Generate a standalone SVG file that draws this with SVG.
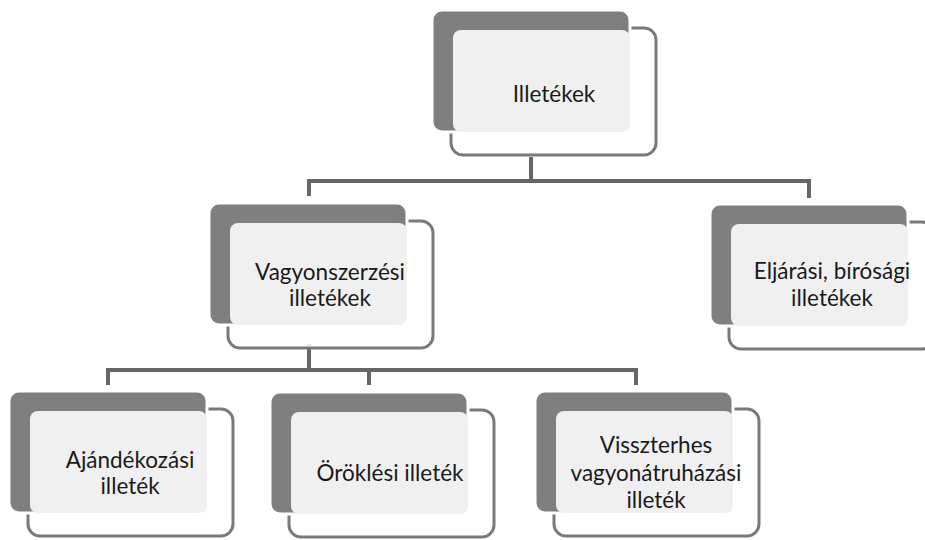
<svg xmlns="http://www.w3.org/2000/svg" width="925" height="540" viewBox="0 0 925 540">
  <style>
    .frame { fill: #ffffff; fill-opacity: 0.85; stroke: #7a7a7a; stroke-width: 3; }
    .back { fill: #7f7f7f; stroke: #ffffff; stroke-width: 3; }
    .face { fill: #f0f0f0; }
    .wire { fill: none; stroke: #666666; stroke-width: 4; stroke-linejoin: miter; }
    text { font-family: Lato, "Open Sans", "Liberation Sans", sans-serif; font-size: 22.5px; fill: #1a1a1a; text-anchor: middle; }
  </style>
  <defs>
    <!-- one framed node shape, placed at the back card's top-left corner -->
    <g id="card">
      <rect class="frame" x="19" y="18" width="205" height="127" rx="12"/>
      <rect class="back" x="0" y="0" width="198" height="122" rx="10"/>
      <rect class="face" x="21" y="20" width="177" height="102" rx="8"/>
    </g>
  </defs>

  <g id="connectors">
    <path class="wire" d="M531 157 V181 M309 196 V181 H809 V198"/>
    <path class="wire" d="M309 344 V370 M108 385 V370 H636 V385 M369 370 V385"/>
  </g>

  <g id="node-illetekek">
    <use href="#card" x="432" y="10"/>
    <text x="554" y="102">Illetékek</text>
  </g>

  <g id="node-vagyonszerzesi">
    <use href="#card" x="209" y="203"/>
    <text x="330" y="280">Vagyonszerzési</text>
    <text x="330" y="306">illetékek</text>
  </g>

  <g id="node-eljarasi">
    <use href="#card" x="710" y="204"/>
    <text x="832" y="279">Eljárási, bírósági</text>
    <text x="832" y="306">illetékek</text>
  </g>

  <g id="node-ajandekozasi">
    <use href="#card" x="9" y="391"/>
    <text x="130" y="468">Ajándékozási</text>
    <text x="130" y="494">illeték</text>
  </g>

  <g id="node-orokolesi">
    <use href="#card" x="270" y="392"/>
    <text x="390" y="481">Öröklési illeték</text>
  </g>

  <g id="node-visszterhes">
    <use href="#card" x="535" y="391"/>
    <text x="656" y="453">Visszterhes</text>
    <text x="656" y="481">vagyonátruházási</text>
    <text x="656" y="508">illeték</text>
  </g>
</svg>
